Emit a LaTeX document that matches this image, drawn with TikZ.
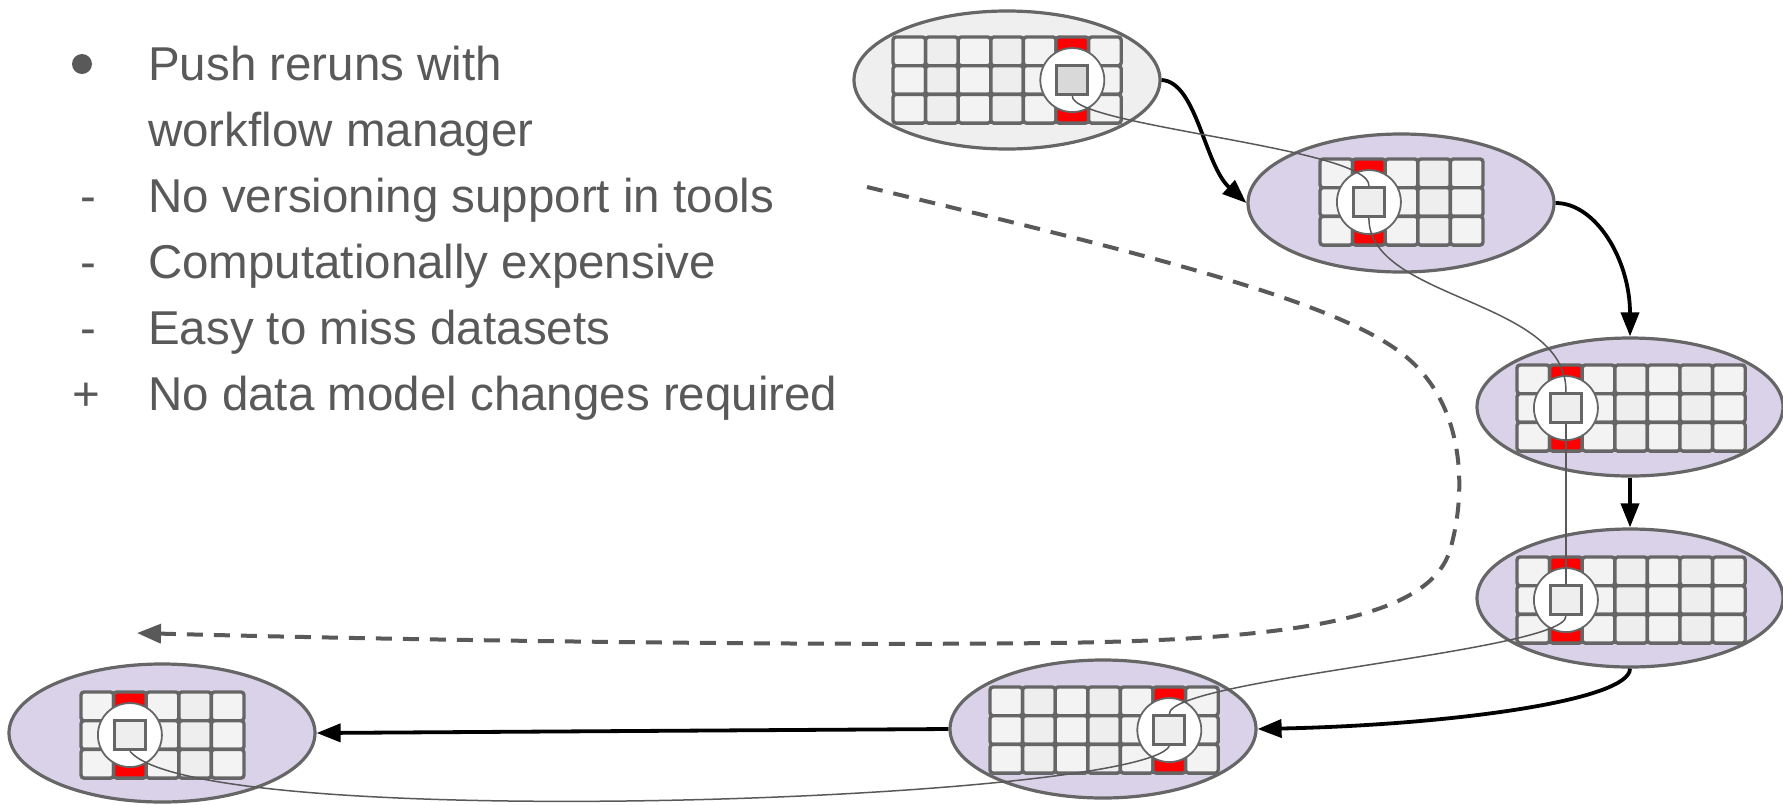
\documentclass[tikz,border=0pt]{standalone}
\usepackage{fontspec}
\setmainfont{Liberation Sans}
\usetikzlibrary{shapes.geometric,arrows.meta}
\definecolor{rim}{HTML}{666666}
\definecolor{ink}{HTML}{595959}
\definecolor{lilac}{HTML}{D9D2E9}
\definecolor{pale}{HTML}{EFEFEF}
\definecolor{cellA}{HTML}{F3F3F3}
\definecolor{cellB}{HTML}{EEEEEE}
\definecolor{sqdark}{HTML}{D9D9D9}
\definecolor{hot}{HTML}{FF0000}

\tikzset{
  dsshape/.style={ellipse, draw=rim, line width=3.2pt, minimum width=306pt,
    minimum height=138pt, inner sep=0pt},
  cell/.style={draw=rim, line width=3.4pt, rounded corners=3pt},
  lens/.style={circle, draw=rim, line width=1.8pt, fill=white,
    minimum size=64pt, inner sep=0pt},
  item/.style={rectangle, draw=rim, line width=3.2pt, minimum width=31pt,
    minimum height=29pt, inner sep=0pt},
  flow/.style={line width=3.8pt, -{Triangle[length=24pt,width=18pt]}},
  lineage/.style={draw=ink, line width=1.5pt},
  rerun/.style={draw=ink, line width=4pt, dash pattern=on 16pt off 11pt,
    -{Triangle[length=24pt,width=19pt]}},
  txt/.style={anchor=base west, inner sep=0pt, text=ink,
    font=\fontsize{47.5}{57}\selectfont},
  listsign/.style={anchor=base, inner sep=0pt, text=ink,
    font=\fontsize{47.5}{57}\selectfont},
}

% #1 name, #2/#3 ellipse centre, #4 ellipse fill, #5/#6 grid top-left,
% #7 number of columns, #8 index of the highlighted column, #9 square fill
\newcommand\dataset[9]{%
  \node[dsshape, fill=#4] (e#1) at (#2,#3) {};
  \foreach \c in {1,...,#7}{
    \foreach \r in {0,1,2}{
      \ifnum\numexpr\c-1\relax=#8 \def\cf{hot}\else
        \ifodd\c \def\cf{cellA}\else\def\cf{cellB}\fi\fi
      \draw[cell, fill=\cf] ({#5+(\c-1)*32.6},{#6+\r*28.7}) rectangle ++(32.6,28.7);
    }
  }
  \node[lens] (c#1) at ({#5+(#8+0.5)*32.6},{#6+1.5*28.7}) {};
  \node[item, fill=#9] (s#1) at (c#1) {};
}

\begin{document}
\begin{tikzpicture}[x=1pt,y=-1pt]
\useasboundingbox (0,0) rectangle (1783,804);

% bullet list
\node[circle, fill=ink, minimum size=20pt, inner sep=0pt] (m1) at (82,64) {};
\node[txt] (t1) at (148,80) {Push reruns with};
\node[txt] (t2) at (148,146) {workflow manager};
\node[listsign] (m3) at (88,212) {-};
\node[txt] (t3) at (148,212) {No versioning support in tools};
\node[listsign] (m4) at (88,278) {-};
\node[txt] (t4) at (148,278) {Computationally expensive};
\node[listsign] (m5) at (88,344) {-};
\node[txt] (t5) at (148,344) {Easy to miss datasets};
\node[listsign] (m6) at (86,410) {+};
\node[txt] (t6) at (148,410) {No data model changes required};

% datasets
\dataset{1}{1007}{80}{pale}{893}{37}{7}{5}{sqdark}
\dataset{2}{1401}{203}{lilac}{1320}{159}{5}{1}{cellB}
\dataset{3}{1630}{407}{lilac}{1517}{365}{7}{1}{cellB}
\dataset{4}{1630}{598}{lilac}{1517}{557}{7}{1}{cellB}
\dataset{5}{1103}{729}{lilac}{990}{687}{7}{5}{cellB}
\dataset{6}{162}{733}{lilac}{81}{692}{5}{1}{cellB}

% processing chain
\draw[flow] (e1.east) .. controls +(35,2) and +(-42,-38) .. (e2.west);
\draw[flow] (e2.east) .. controls +(40,0) and +(0,-77) .. (e3.north);
\draw[flow] (e3.south) -- (e4.north);
\draw[flow] (e4.south) .. controls +(0,32) and +(192,-4) .. (e5.east);
\draw[flow] (e5.west) -- (e6.east);

% lineage of one record
\draw[lineage] (s1.south) .. controls +(0,30) and +(3,-38) .. (s2.north);
\draw[lineage] (s2.south) .. controls +(0,82) and +(2,-93) .. (s3.north);
\draw[lineage] (s3.south) -- (s4.north);
\draw[lineage] (s4.south) .. controls +(0,35) and +(0,-35) .. (s5.north);
\draw[lineage] (s5.south) .. controls +(-30,55) and +(68,83) .. (s6.south);

% rerun pushed back
\coordinate (r0) at (867,187);
\coordinate (r1) at (137,633);
\draw[rerun] (r0) .. controls (1150,255) and (1330,300) .. (1400,352)
  .. controls (1470,404) and (1465,500) .. (1450,550)
  .. controls (1430,617) and (1300,640) .. (1050,643)
  .. controls (800,646) and (400,640) .. (r1);
\end{tikzpicture}
\end{document}
